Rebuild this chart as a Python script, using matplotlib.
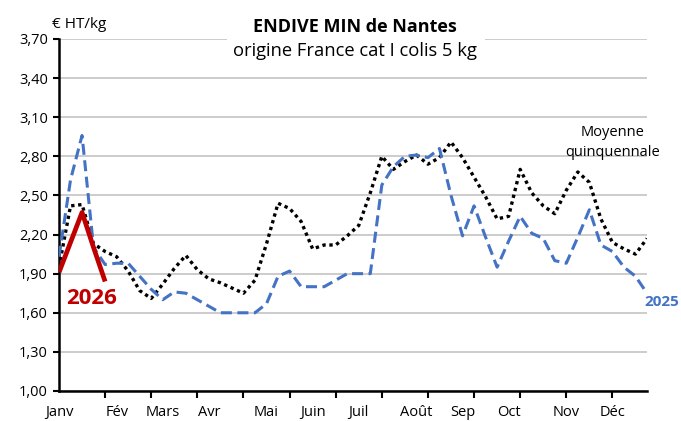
import matplotlib.pyplot as plt
import numpy as np
from matplotlib.patches import Rectangle

plt.rcParams["font.family"] = ["Open Sans", "DejaVu Sans"]

# Weekly prices (EUR HT/kg), week index 0..51
prix_2025 = [
    2.03, 2.62, 2.96, 2.10, 1.97, 1.98, 1.98, 1.88, 1.78, 1.70,
    1.76, 1.75, 1.70, 1.65, 1.60, 1.60, 1.60, 1.60, 1.67, 1.88,
    1.92, 1.80, 1.80, 1.80, 1.85, 1.90, 1.90, 1.90, 2.58, 2.72,
    2.80, 2.81, 2.79, 2.86, 2.50, 2.19, 2.42, 2.18, 1.95, 2.15,
    2.34, 2.21, 2.17, 2.00, 1.98, 2.18, 2.39, 2.12, 2.07, 1.95,
    1.88, 1.75,
]
moyenne_5ans = [
    1.95, 2.42, 2.43, 2.13, 2.07, 2.03, 1.92, 1.77, 1.71, 1.82,
    1.94, 2.04, 1.93, 1.86, 1.83, 1.79, 1.75, 1.85, 2.13, 2.44,
    2.40, 2.30, 2.09, 2.12, 2.12, 2.19, 2.27, 2.52, 2.80, 2.70,
    2.76, 2.81, 2.74, 2.79, 2.91, 2.79, 2.64, 2.49, 2.32, 2.34,
    2.70, 2.52, 2.42, 2.36, 2.54, 2.68, 2.60, 2.32, 2.14, 2.09,
    2.05, 2.17,
]
prix_2026 = [1.91, 2.14, 2.37, 2.10, 1.84]

mois = ["Janv", "Fév", "Mars", "Avr", "Mai", "Juin", "Juil",
        "Août", "Sep", "Oct", "Nov", "Déc"]
mois_semaine = [0, 5, 9, 13, 18, 22, 26, 31, 35, 39, 44, 48]
y_ticks = [1.00, 1.30, 1.60, 1.90, 2.20, 2.50, 2.80, 3.10, 3.40, 3.70]

fig = plt.figure(figsize=(6.81, 4.21), dpi=100)
ax = fig.add_axes([59 / 681, 1 - 391 / 421, 588 / 681, 352 / 421])

weeks = np.arange(len(prix_2025))
ax.plot(weeks, moyenne_5ans, color="black", lw=2.4, linestyle=(0, (1, 1.1)),
        dash_capstyle="butt", zorder=3)
ax.plot(weeks, prix_2025, color="#4472C4", lw=2.2, linestyle=(0, (3.6, 1.8)),
        dash_capstyle="butt", zorder=4)
ax.plot(np.arange(len(prix_2026)), prix_2026, color="#C00000", lw=3.4,
        solid_capstyle="butt", zorder=5)

ax.set_xlim(0, 51)
ax.set_ylim(1.0, 3.7)
ax.set_yticks(y_ticks)
ax.set_yticklabels([f"{v:.2f}".replace(".", ",") for v in y_ticks])
ax.yaxis.grid(True, color="#C8C8C8", lw=1.3)
ax.set_axisbelow(True)

ax.set_xticks(np.arange(4, 52, 4))
ax.set_xticklabels([])
ax.tick_params(axis="x", direction="out", length=5, width=1.5, color="black")
ax.tick_params(axis="y", direction="out", length=4, width=1.5, color="black",
               labelsize=10.5, pad=4)
for w, m in zip(mois_semaine, mois):
    ax.text(w, -0.06, m, transform=ax.get_xaxis_transform(), ha="center",
            va="center", fontsize=10.5)

for s in ["top", "right"]:
    ax.spines[s].set_visible(False)
for s in ["left", "bottom"]:
    ax.spines[s].set_linewidth(1.8)

ax.text(0.6, 1.71, "2026", color="#C00000", fontsize=16, fontweight="bold",
        ha="left", va="center")
ax.text(52.3, 1.68, "2025", color="#4472C4", fontsize=11, fontweight="bold",
        ha="center", va="center")
ax.text(48.0, 2.905, "Moyenne\nquinquennale", fontsize=10.5, ha="center",
        va="center", linespacing=1.4)

# white patch hiding the top gridline behind the title
fig.add_artist(Rectangle((227 / 681, 1 - 48 / 421), 258 / 681, 16 / 421,
                         transform=fig.transFigure, facecolor="white",
                         edgecolor="none", zorder=5))
fig.text(355 / 681, 1 - 27 / 421, "ENDIVE MIN de Nantes", fontsize=13,
         fontweight="bold", ha="center", va="center", zorder=6)
fig.text(355 / 681, 1 - 51 / 421, "origine France cat I colis 5 kg",
         fontsize=13.2, ha="center", va="center", zorder=6)
fig.text(52 / 681, 1 - 24 / 421, "€ HT/kg", fontsize=11, ha="left",
         va="center")

fig.savefig("out.png", dpi=100)
